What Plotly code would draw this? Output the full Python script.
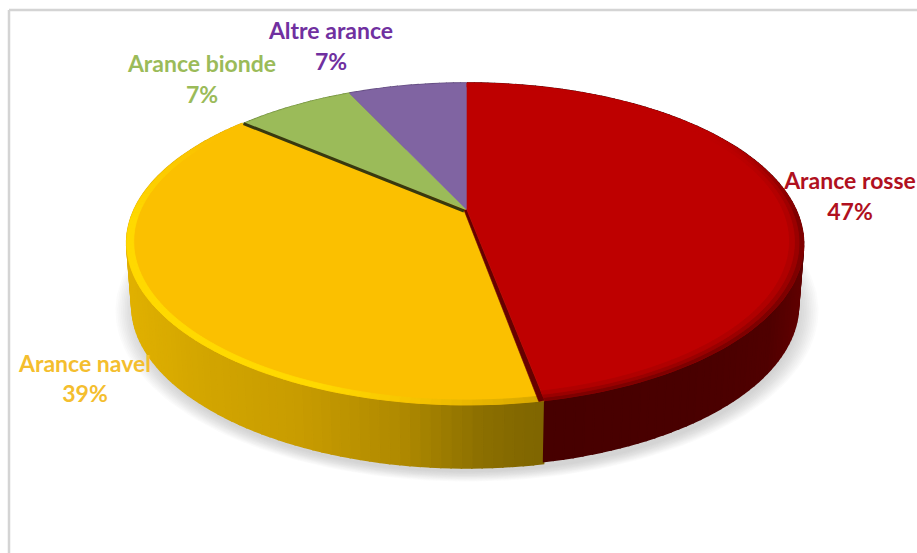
import numpy as np
import plotly.graph_objects as go

# Category shares, clockwise from twelve o'clock
categories = ["Arance rosse", "Arance navel", "Arance bionde", "Altre arance"]
shares = [47, 39, 7, 7]

face_colors = ["#BE0000", "#FBC000", "#9BBB59", "#8064A2"]
label_colors = ["#B01020", "#F4BE2E", "#9BBB59", "#7030A0"]
label_x = [850, 85, 202, 331]
label_y_name = [183, 366, 66, 33]
label_y_pct = [214, 396, 97, 64]

# Perspective disc geometry, in page pixels
APEX_X, APEX_Y = 467, 210
SCALE_X, SCALE_Y, TILT = 329, 153.8, 0.211
BOTTOM_SHRINK = 0.985
SLICE_DX = [0, -4, 0, 0]
SLICE_DEPTH = [61, 63, 63, 63]


def project(theta, r=1.0, dx=0.0):
    """Map a polar position on the disc to page coordinates."""
    theta = np.asarray(theta, dtype=float)
    u, v = r * np.sin(theta), r * np.cos(theta)
    w = 1 + TILT * v
    # The left side of the disc bulges out a little
    shift = dx * np.clip(-np.sin(theta), 0, 1) ** 3
    return APEX_X + shift + SCALE_X * u / w, APEX_Y - SCALE_Y * v / w


def channels(color):
    return np.array([int(color[i:i + 2], 16) for i in (1, 3, 5)], dtype=float)


def lerp_rgb(stops, x):
    xs = [s[0] for s in stops]
    return np.array([np.interp(x, xs, [channels(s[1])[i] for s in stops]) for i in range(3)])


def css(rgb):
    return "rgb(%d,%d,%d)" % tuple(rgb)


SIDE_STOPS = [
    [(520, "#470000"), (700, "#4A0000"), (770, "#500000"), (810, "#640000")],
    [(120, "#E2B200"), (200, "#D3A600"), (300, "#C89C00"), (400, "#B08A00"), (480, "#8C7000"), (535, "#806600")],
    [(0, "#6E8C3A"), (900, "#6E8C3A")],
    [(0, "#5C4678"), (900, "#5C4678")],
]

# Bevel bands per bright slice: (outer radius, inner radius, colour stops along the page width)
BEVELS = {
    0: [(1.0, 0.987, [(0, "#7E0000"), (900, "#7E0000")]),
        (0.987, 0.974, [(0, "#9A0000"), (900, "#9A0000")]),
        (0.974, 0.96, [(0, "#B00000"), (900, "#B00000")])],
    1: [(1.0, 0.98, [(120, "#FFD900"), (320, "#FFD900"), (420, "#F6C200"), (540, "#D8A800")])],
}

fig = go.Figure()


def polygon(xs, ys, color, opacity=1.0, edge=0.6):
    fig.add_trace(go.Scatter(
        x=list(xs) + [xs[0]], y=list(ys) + [ys[0]], mode="lines", fill="toself",
        fillcolor=color, opacity=opacity, line=dict(color=color, width=edge),
        hoverinfo="skip", showlegend=False,
    ))


edges = np.cumsum([0] + shares) / sum(shares) * 2 * np.pi

# Soft cast shadow under the disc
ring = np.linspace(0, 2 * np.pi, 240)
for grow in np.linspace(1.06, 1.0, 12):
    sx, sy = project(ring)
    cx, cy = APEX_X, APEX_Y + 35
    polygon(cx + (sx - cx) * grow * BOTTOM_SHRINK, cy + (sy - cy) * grow + 67,
            "#808080", opacity=0.035, edge=0)

# Outer wall of each slice, shaded along its arc; the red slice is drawn last
for i in [3, 2, 1, 0]:
    steps = max(4, int(shares[i] * 2.5))
    t = np.linspace(edges[i], edges[i + 1], steps + 1)
    for a, b in zip(t[:-1], t[1:]):
        x, y = project([a, b], dx=SLICE_DX[i])
        xb = APEX_X + (x - APEX_X) * BOTTOM_SHRINK
        yb = y + SLICE_DEPTH[i]
        polygon([x[0], x[1], xb[1], xb[0]], [y[0], y[1], yb[1], yb[0]],
                css(lerp_rgb(SIDE_STOPS[i], x.mean())), edge=1.6)

# Top faces with a bevelled rim that fades out toward the back of the disc
for i in [1, 2, 3, 0]:
    if i == 0:
        # Dark cut face between the navel and red slices
        fx, fy = project(edges[1])
        polygon([APEX_X, fx, fx - 6, APEX_X - 3], [APEX_Y, fy, fy + 1, APEX_Y], "#660000")
    t = np.linspace(edges[i], edges[i + 1], 120)
    x, y = project(t, dx=SLICE_DX[i])
    polygon(np.r_[APEX_X, x], np.r_[APEX_Y, y], face_colors[i])
    for r_out, r_in, stops in BEVELS.get(i, []):
        seg = np.linspace(edges[i], edges[i + 1], int(shares[i] * 2.5) + 1)
        for a, b in zip(seg[:-1], seg[1:]):
            ox, oy = project([a, b], r=r_out, dx=SLICE_DX[i])
            ix, iy = project([a, b], r=r_in, dx=SLICE_DX[i])
            fade = float(np.clip((0.55 - np.cos((a + b) / 2)) / 0.6, 0, 1))
            rgb = channels(face_colors[i]) * (1 - fade) + lerp_rgb(stops, ox.mean()) * fade
            polygon([ox[0], ox[1], ix[1], ix[0]], [oy[0], oy[1], iy[1], iy[0]], css(rgb), edge=0.8)

# Dark seam between the navel and blonde slices
sx, sy = project(edges[2])
fig.add_trace(go.Scatter(x=[APEX_X - 3, sx], y=[APEX_Y + 1, sy], mode="lines",
                         line=dict(color="#38380F", width=3), hoverinfo="skip", showlegend=False))

# Data labels: category name above its percentage
for name, share, lx, ly1, ly2, col in zip(categories, shares, label_x, label_y_name, label_y_pct, label_colors):
    fig.add_trace(go.Scatter(
        x=[lx, lx], y=[ly1, ly2], mode="text", text=[name, f"{share}%"],
        textposition="middle center",
        textfont=dict(family="Lato", size=23, color=col, weight="bold"),
        hoverinfo="skip", showlegend=False,
    ))

# Thin frame along the top and left of the chart area
frame = dict(type="line", xref="x", yref="y", line=dict(color="#D4D4D4", width=2.5))
fig.update_layout(
    width=917, height=553, margin=dict(l=0, r=0, t=0, b=0),
    paper_bgcolor="white", plot_bgcolor="white", showlegend=False,
    xaxis=dict(range=[0, 917], visible=False, fixedrange=True),
    yaxis=dict(range=[553, 0], visible=False, fixedrange=True),
    shapes=[dict(frame, x0=9, x1=917, y0=10, y1=10), dict(frame, x0=9, x1=9, y0=10, y1=553)],
)
fig.write_html("out.html", config=dict(displayModeBar=False))
